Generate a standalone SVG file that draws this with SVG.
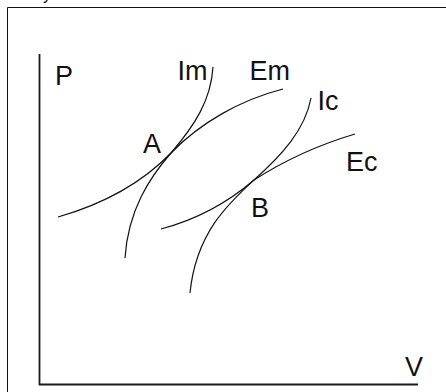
<svg xmlns="http://www.w3.org/2000/svg" width="446" height="392" viewBox="0 0 446 392">
<style>
.lbl{font-family:"Liberation Sans",Arial,sans-serif;font-size:27px;fill:#111;}
.crv{fill:none;stroke:#111;stroke-width:1.2;}
.axis{fill:none;stroke:#1a1a1a;stroke-width:1.8;}
</style>
<rect x="0" y="0" width="446" height="392" fill="#fff"/>
<text x="43" y="-0.5" style="font-family:'Liberation Sans',Arial,sans-serif;font-size:16px;fill:#111">y</text>
<path d="M7.5,400 V7.5 H460" fill="none" stroke="#111" stroke-width="1"/>
<g id="axes">
<path class="axis" d="M39.5,54 V384.5 H418"/>
<text class="lbl" x="55" y="85">P</text>
<text class="lbl" x="405" y="376">V</text>
</g>
<g id="curves">
<path id="Im" class="crv" d="M213,67 C211,100 195,125 171,153 C150,177 128,210 125,258"/>
<path id="Em" class="crv" d="M58,217 C100,205 140,185 171,153 C200,123 240,100 283,89"/>
<path id="Ic" class="crv" d="M311,98 C305,130 282,155 254,180 C230,202 196,232 190,293"/>
<path id="Ec" class="crv" d="M161,229 C195,220 225,205 254,180 C282,162 318,145 355,134"/>
</g>
<g id="labels">
<text class="lbl" x="177.5" y="80">Im</text>
<text class="lbl" x="249.5" y="80">Em</text>
<text class="lbl" x="317.5" y="110">Ic</text>
<text class="lbl" x="346" y="171">Ec</text>
<text class="lbl" x="143" y="153">A</text>
<text class="lbl" x="251" y="217">B</text>
</g>
</svg>
